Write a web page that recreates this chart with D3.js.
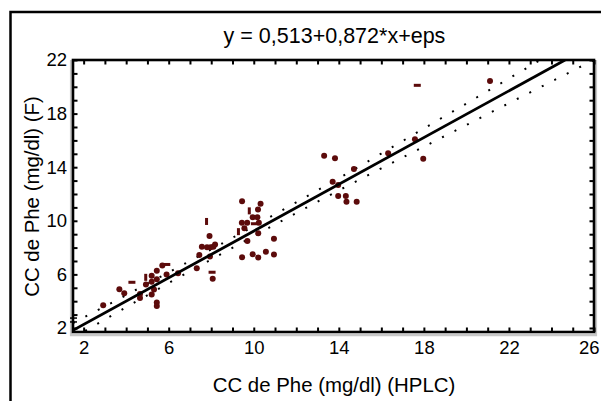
<!DOCTYPE html>
<html>
<head>
<meta charset="utf-8">
<script src="https://cdn.jsdelivr.net/npm/d3@7"></script>
<style>
  body { margin: 0; background: #fff; }
  text { font-family: "Liberation Sans", Arial, sans-serif; fill: #000; }
</style>
</head>
<body>
<svg id="chart"></svg>
<script>
const width = 601;
const height = 401;

// scatter points [HPLC, F]
const points = [
    [2.92, 3.69], [3.68, 4.89], [3.91, 4.59], [4.65, 4.54], [4.65, 4.24],
    [4.93, 5.24], [5.20, 5.89], [5.20, 5.45], [5.31, 4.87], [5.20, 4.50],
    [5.44, 6.27], [5.44, 5.64], [5.44, 3.90], [5.44, 3.64], [5.70, 6.66],
    [5.90, 5.99], [6.44, 6.08], [7.32, 6.45], [7.44, 7.45], [7.56, 8.07],
    [7.92, 8.86], [7.80, 8.02], [7.97, 8.02], [7.94, 7.33], [8.10, 8.07],
    [8.18, 8.23], [8.07, 5.68], [9.45, 11.46], [10.32, 11.27], [10.20, 10.84],
    [9.44, 9.86], [9.69, 9.86], [9.95, 10.26], [10.17, 10.26], [10.24, 9.86],
    [9.56, 9.44], [10.21, 9.07], [9.70, 8.49], [10.95, 8.66], [9.45, 7.28],
    [9.95, 7.50], [10.21, 7.26], [10.57, 7.69], [10.95, 7.48], [13.31, 14.86],
    [13.82, 14.66], [14.71, 13.86], [13.71, 12.92], [13.97, 12.67], [13.97, 11.85],
    [14.33, 11.85], [14.36, 11.42], [14.84, 11.42], [16.32, 15.04], [17.58, 16.08],
    [17.97, 14.63], [21.11, 20.43]
];

// markers drawn flattened in the original
const flatPoints = [[5.91, 6.74], [8.04, 6.16], [10.03, 9.78], [17.69, 20.11], [4.27, 5.41]];
const tallPoints = [[7.78, 9.95], [9.79, 10.74], [9.28, 9.19], [4.92, 5.78]];

// fitted line end points
const fitX = [1.5, 24.64];
const fitY = [1.82, 22];

// dotted band
const bandX = [1.5, 4, 6, 8, 10, 12, 14, 16, 18, 20, 22, 24, 26];
const bandUpper = [2.37, 4.45, 6.15, 7.86, 9.60, 11.38, 13.17, 15.02, 16.89, 18.75, 20.62, 22.49, 24.37];
const bandLower = [1.27, 3.55, 5.35, 7.12, 8.86, 10.58, 12.27, 13.92, 15.53, 17.15, 18.78, 20.39, 22.01];

// marks sitting on the left axis
const edgeMarks = [2.74, 2.45];

const xLabels = [2, 6, 10, 14, 18, 22, 26];
const yLabels = [2, 6, 10, 14, 18, 22];
const xMinor = d3.range(2, 27);
const yMinor = d3.range(2, 23);

const titleText = "y = 0,513+0,872*x+eps";
const xTitle = "CC de Phe (mg/dl) (HPLC)";
const yTitle = "CC de Phe (mg/dl) (F)";

const plot = {left: 73, right: 594, top: 60, bottom: 332};
const dotColor = "#5c0b0b";

const svg = d3.select("#chart")
    .attr("width", width)
    .attr("height", height);

const x = d3.scaleLinear().domain([1.5, 26]).range([plot.left, plot.right]);
const y = d3.scaleLinear().domain([1.7, 22]).range([plot.bottom, plot.top]);

// outer frame, runs off the page
svg.append("path")
    .attr("d", `M10.5,${height}V12H${width}`)
    .attr("fill", "none")
    .attr("stroke", "#000")
    .attr("stroke-width", 2.5);

// grey shadow of the plot box
svg.append("path")
    .attr("d", `M71,60V335.2H596V60`)
    .attr("fill", "none")
    .attr("stroke", "#c8c8c8")
    .attr("stroke-width", 2.2);

svg.append("defs").append("clipPath")
    .attr("id", "plotClip")
    .append("rect")
    .attr("x", plot.left)
    .attr("y", plot.top)
    .attr("width", plot.right - plot.left)
    .attr("height", plot.bottom - plot.top);

const inner = svg.append("g").attr("clip-path", "url(#plotClip)");

// dotted band
const bandLine = d3.line().x(d => x(d[0])).y(d => y(d[1]));
[bandUpper, bandLower].forEach(vals => {
    inner.append("path")
        .attr("d", bandLine(bandX.map((v, i) => [v, vals[i]])))
        .attr("fill", "none")
        .attr("stroke", "#000")
        .attr("stroke-width", 2)
        .attr("stroke-dasharray", "2,12");
});

inner.selectAll(".dot")
    .data(points)
    .join("circle")
    .attr("class", "dot")
    .attr("cx", d => x(d[0]))
    .attr("cy", d => y(d[1]))
    .attr("r", 3)
    .attr("fill", dotColor);

inner.selectAll(".flat")
    .data(flatPoints)
    .join("rect")
    .attr("class", "flat")
    .attr("x", d => x(d[0]) - 3.5)
    .attr("y", d => y(d[1]) - 1.5)
    .attr("width", 7)
    .attr("height", 3)
    .attr("fill", dotColor);

inner.selectAll(".tall")
    .data(tallPoints)
    .join("rect")
    .attr("class", "tall")
    .attr("x", d => x(d[0]) - 1.5)
    .attr("y", d => y(d[1]) - 3.5)
    .attr("width", 3)
    .attr("height", 7)
    .attr("fill", dotColor);

// fitted line
inner.append("path")
    .attr("d", bandLine(fitX.map((v, i) => [v, fitY[i]])))
    .attr("fill", "none")
    .attr("stroke", "#000")
    .attr("stroke-width", 2.8);

svg.selectAll(".edge")
    .data(edgeMarks)
    .join("line")
    .attr("class", "edge")
    .attr("x1", plot.left - 3)
    .attr("x2", plot.left + 4)
    .attr("y1", d => y(d))
    .attr("y2", d => y(d))
    .attr("stroke", "#000")
    .attr("stroke-width", 1.5);

// box
svg.append("rect")
    .attr("x", plot.left)
    .attr("y", plot.top)
    .attr("width", plot.right - plot.left)
    .attr("height", plot.bottom - plot.top)
    .attr("fill", "none")
    .attr("stroke", "#000")
    .attr("stroke-width", 2.6);

// minor ticks on all four sides, pointing in
const tickStyle = g => {
    g.select(".domain").remove();
    g.selectAll("text").remove();
    g.selectAll("line").attr("stroke", "#000").attr("stroke-width", 2);
};

svg.append("g")
    .attr("transform", `translate(0,${plot.bottom})`)
    .call(d3.axisBottom(x).tickValues(xMinor).tickSize(-4.5).tickFormat(""))
    .call(tickStyle);
svg.append("g")
    .attr("transform", `translate(0,${plot.top})`)
    .call(d3.axisTop(x).tickValues(xMinor).tickSize(-4.5).tickFormat(""))
    .call(tickStyle);
svg.append("g")
    .attr("transform", `translate(${plot.left},0)`)
    .call(d3.axisLeft(y).tickValues(yMinor).tickSize(-4.5).tickFormat(""))
    .call(tickStyle);
svg.append("g")
    .attr("transform", `translate(${plot.right},0)`)
    .call(d3.axisRight(y).tickValues(yMinor).tickSize(-4.5).tickFormat(""))
    .call(tickStyle);

// labels
const labelStyle = g => {
    g.select(".domain").remove();
    g.selectAll("line").remove();
    g.selectAll("text")
        .attr("fill", "#000")
        .style("font-size", "18.5px")
        .style("font-family", "'Liberation Sans', Arial, sans-serif");
};

svg.append("g")
    .attr("transform", `translate(0,${plot.bottom})`)
    .call(d3.axisBottom(x).tickValues(xLabels).tickSize(0).tickPadding(9))
    .call(labelStyle)
    .selectAll("text")
    .filter(d => d === 26)
    .attr("text-anchor", "end")
    .attr("dx", "5px");

svg.append("g")
    .attr("transform", `translate(${plot.left},0)`)
    .call(d3.axisLeft(y).tickValues(yLabels).tickSize(0).tickPadding(6))
    .call(labelStyle);

svg.append("text")
    .attr("x", 334.5)
    .attr("y", 43)
    .attr("text-anchor", "middle")
    .style("font-size", "21.5px")
    .text(titleText);

svg.append("text")
    .attr("x", 334)
    .attr("y", 392)
    .attr("text-anchor", "middle")
    .style("font-size", "20.4px")
    .text(xTitle);

svg.append("text")
    .attr("transform", "translate(38.5,196.5) rotate(-90)")
    .attr("text-anchor", "middle")
    .style("font-size", "20.4px")
    .text(yTitle);
</script>
</body>
</html>
